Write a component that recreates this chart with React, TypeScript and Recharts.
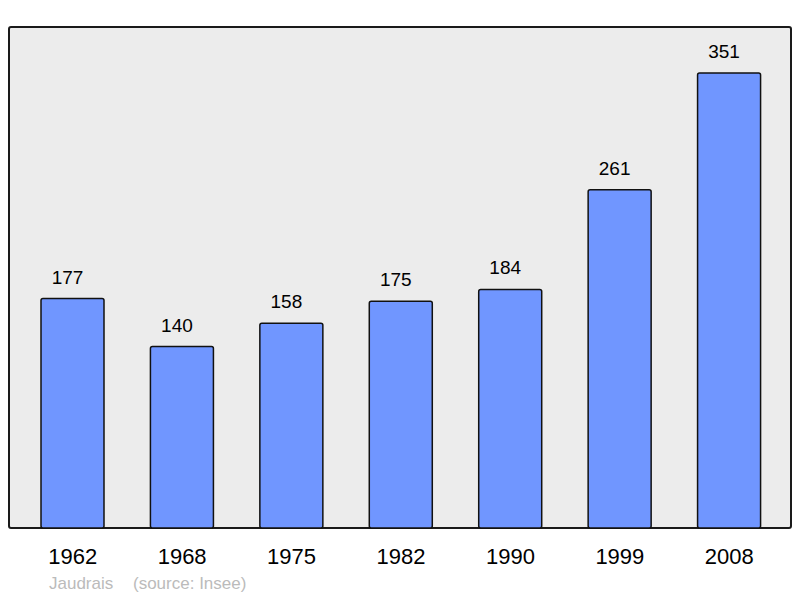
import React from "react";
import { BarChart, Bar, XAxis, YAxis, LabelList } from "recharts";

const years = ["1962", "1968", "1975", "1982", "1990", "1999", "2008"];
const population = [177, 140, 158, 175, 184, 261, 351];
const yMax = 386.5;

const data = years.map((y, i) => ({ year: y, pop: population[i] }));
const font = "'Liberation Sans', Arial, sans-serif";

export default function App() {
  return (
    <div style={{ position: "fixed", left: 0, top: 0, width: 800, height: 598, background: "#fff", fontFamily: font, overflow: "hidden" }}>
      <div style={{ position: "absolute", left: 8, top: 26, width: 780, height: 499, background: "#ececec", border: "2px solid #1a1a1a", borderRadius: 3 }} />
      <div style={{ position: "absolute", left: 0, top: 0 }}>
        <BarChart width={800} height={598} data={data} margin={{ top: 27, right: 9, bottom: 40, left: 9 }}>
          <XAxis dataKey="year" height={30} axisLine={false} tickLine={false} padding={{ left: 9, right: 7 }} tick={{ fill: "#000", fontSize: 22, fontFamily: font }} dy={12} interval={0} />
          <YAxis hide domain={[0, yMax]} />
          <Bar dataKey="pop" fill="#7096ff" stroke="#111" strokeWidth={1.5} barSize={63} radius={2} isAnimationActive={false}>
            <LabelList dataKey="pop" position="top" offset={15} dx={-5} fill="#000" fontSize={19} fontFamily={font} />
          </Bar>
        </BarChart>
      </div>
      <div style={{ position: "absolute", left: 49, top: 574, fontSize: 17, lineHeight: "20px", color: "#bbbbbb", whiteSpace: "pre" }}>Jaudrais</div>
      <div style={{ position: "absolute", left: 133, top: 574, fontSize: 17, lineHeight: "20px", color: "#bbbbbb", whiteSpace: "pre" }}>(source: Insee)</div>
    </div>
  );
}
